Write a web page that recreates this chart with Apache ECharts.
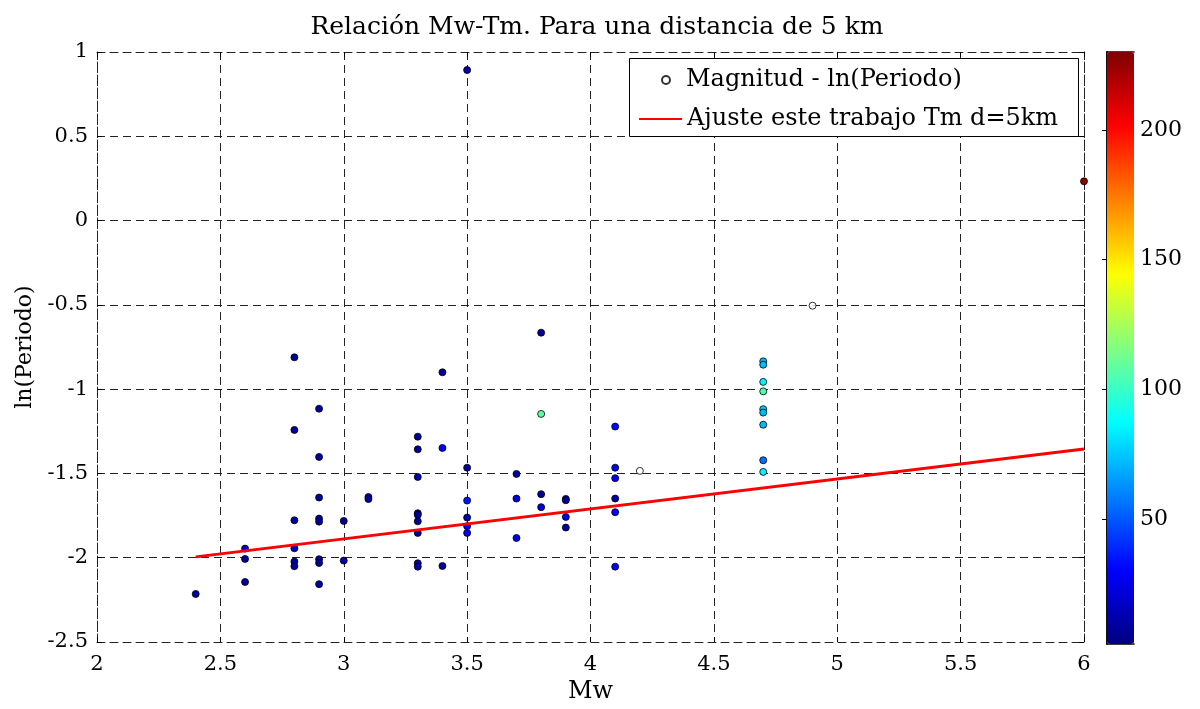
<!DOCTYPE html>
<html>
<head>
<meta charset="utf-8">
<script src="https://cdn.jsdelivr.net/npm/echarts@6/dist/echarts.min.js"></script>
<style>html,body{margin:0;padding:0;background:#fff;}#c{width:1200px;height:709px;}</style>
</head>
<body>
<div id="c"></div>
<script>
// Colored scatter: magnitude, ln(period), color value
const mw = [2.4, 2.6,2.6,2.6, 2.8,2.8,2.8,2.8,2.8,2.8, 2.9,2.9,2.9,2.9,2.9,2.9,2.9,2.9, 3.0,3.0, 3.1,3.1,
  3.3,3.3,3.3,3.3,3.3,3.3,3.3,3.3,3.3, 3.4,3.4,3.4, 3.5,3.5,3.5,3.5,3.5,3.5, 3.7,3.7,3.7, 3.8,3.8,3.8,3.8,
  3.9,3.9,3.9,3.9, 4.1,4.1,4.1,4.1,4.1,4.1, 4.7,4.7,4.7,4.7,4.7,4.7,4.7,4.7,4.7, 6.0];
const lnPeriodo = [-2.215, -1.946,-2.007,-2.144, -0.811,-1.242,-1.778,-1.944,-2.023,-2.050,
  -1.116,-1.402,-1.643,-1.768,-1.786,-2.009,-2.031,-2.157, -1.782,-2.017, -1.640,-1.652,
  -1.282,-1.357,-1.521,-1.736,-1.746,-1.784,-1.853,-2.033,-2.053, -0.900,-1.349,-2.049,
  0.893,-1.466,-1.661,-1.762,-1.813,-1.853, -1.503,-1.649,-1.883, -0.665,-1.147,-1.623,-1.700,
  -1.651,-1.659,-1.758,-1.821, -1.222,-1.466,-1.528,-1.649,-1.730,-2.053,
  -0.835,-0.855,-0.957,-1.013,-1.119,-1.139,-1.211,-1.422,-1.491, 0.233];
const colorValue = [8, 20,8,8, 8,8,8,18,8,10, 8,8,8,8,8,8,8,8, 8,12, 20,8,
  8,8,14,8,8,8,8,10,14, 8,30,8, 12,8,35,12,30,30, 8,22,25, 8,108,8,22,
  8,8,30,8, 32,30,30,8,30,30, 72,72,85,105,75,72,72,55,85, 228];
// Hollow markers (legend series)
const hollowMw = [4.2, 4.9];
const hollowLn = [-1.485, -0.505];
// Fit line endpoints
const fitMw = [2.4, 6.0];
const fitLn = [-1.995, -1.355];
// Axis settings
const cbMin = 1.8, cbMax = 230;
const cbTicks = [50, 100, 150, 200];
const jet = ['#000080','#0000FF','#0080FF','#00FFFF','#80FF80','#FFFF00','#FF8000','#FF0000','#800000'];

const FONT = 'DejaVu Serif';
const dash = [8, 5];
const gridCol = '#222';

const scatterData = mw.map((x, i) => [x, lnPeriodo[i], colorValue[i]]);
const hollowData = hollowMw.map((x, i) => [x, hollowLn[i]]);
const fitData = fitMw.map((x, i) => [x, fitLn[i]]);

const chart = echarts.init(document.getElementById('c'), null, {renderer: 'canvas'});
const lbl = {fontFamily: FONT, fontSize: 21, color: '#000'};

const option = {
  animation: false,
  title: {
    text: 'Relación Mw-Tm. Para una distancia de 5 km',
    left: 592, top: 6, textAlign: 'center',
    textStyle: {fontFamily: FONT, fontSize: 25, fontWeight: 'normal', color: '#000', lineHeight: 32}
  },
  grid: [
    {left: 97, top: 52, width: 987, height: 590, show: false},
    {left: 1107, top: 52, width: 27, height: 592, show: false}
  ],
  xAxis: [
    {gridIndex: 0, type: 'value', min: 2, max: 6, interval: 0.5, position: 'bottom',
     name: 'Mw', nameLocation: 'middle', nameGap: 36,
     nameTextStyle: {fontFamily: FONT, fontSize: 24, color: '#000'},
     axisLine: {show: true, onZero: false, lineStyle: {color: gridCol, type: dash}},
     axisTick: {show: true, inside: true, length: 5, lineStyle: {color: '#000'}},
     axisLabel: Object.assign({margin: 12}, lbl),
     splitLine: {show: true, lineStyle: {color: gridCol, type: dash, width: 1}}},
    {gridIndex: 0, type: 'value', min: 2, max: 6, interval: 0.5, position: 'top',
     axisLine: {show: true, onZero: false, lineStyle: {color: gridCol, type: dash}},
     axisTick: {show: true, inside: true, length: 5, lineStyle: {color: '#000'}},
     axisLabel: {show: false}, splitLine: {show: false}},
    {gridIndex: 1, type: 'value', min: 0, max: 1, position: 'bottom',
     axisLine: {show: true, lineStyle: {color: '#000', width: 1.5}}, axisTick: {show: false},
     axisLabel: {show: false}, splitLine: {show: false}},
    {gridIndex: 1, type: 'value', min: 0, max: 1, position: 'top',
     axisLine: {show: true, lineStyle: {color: '#000', width: 1.5}}, axisTick: {show: false},
     axisLabel: {show: false}, splitLine: {show: false}}
  ],
  yAxis: [
    {gridIndex: 0, type: 'value', min: -2.5, max: 1, interval: 0.5, position: 'left',
     name: 'ln(Periodo)', nameLocation: 'middle', nameGap: 60, nameRotate: 90,
     nameTextStyle: {fontFamily: FONT, fontSize: 22, color: '#000'},
     axisLine: {show: true, onZero: false, lineStyle: {color: gridCol, type: dash}},
     axisTick: {show: true, inside: true, length: 5, lineStyle: {color: '#000'}},
     axisLabel: Object.assign({margin: 9}, lbl),
     splitLine: {show: true, lineStyle: {color: gridCol, type: dash, width: 1}}},
    {gridIndex: 0, type: 'value', min: -2.5, max: 1, interval: 0.5, position: 'right',
     axisLine: {show: true, onZero: false, lineStyle: {color: gridCol, type: dash}},
     axisTick: {show: true, inside: true, length: 5, lineStyle: {color: '#000'}},
     axisLabel: {show: false}, splitLine: {show: false}},
    {gridIndex: 1, type: 'value', min: cbMin, max: cbMax, position: 'right',
     axisLine: {show: true, lineStyle: {color: '#000', width: 1.5}},
     axisTick: {show: true, inside: true, length: 5, customValues: cbTicks, lineStyle: {color: '#000'}},
     axisLabel: Object.assign({margin: 6, customValues: cbTicks}, lbl, {fontSize: 22}),
     splitLine: {show: false}},
    {gridIndex: 1, type: 'value', min: cbMin, max: cbMax, position: 'left',
     axisLine: {show: true, lineStyle: {color: '#000', width: 1.5}},
     axisTick: {show: true, inside: true, length: 5, customValues: cbTicks, lineStyle: {color: '#000'}},
     axisLabel: {show: false}, splitLine: {show: false}}
  ],
  visualMap: {
    type: 'continuous', min: cbMin, max: cbMax, dimension: 2, seriesIndex: 0,
    show: true, calculable: false, left: 1107, top: 52, itemWidth: 27, itemHeight: 592,
    padding: 0, text: null, showLabel: false, hoverLink: false,
    inRange: {color: jet}
  },
  graphic: [{
    type: 'rect', left: 629, top: 58, z: 10,
    shape: {width: 449, height: 78},
    style: {fill: '#fff', stroke: '#000', lineWidth: 1}
  }],
  legend: [
    {data: [{name: 'Magnitud - ln(Periodo)', icon: 'circle'}], left: 656, top: 62, itemWidth: 8, itemHeight: 8, z: 20,
     textStyle: {fontFamily: FONT, fontSize: 24, color: '#000', lineHeight: 26, padding: [0, 0, 0, 11]}},
    {data: [{name: 'Ajuste este trabajo Tm d=5km', icon: 'rect'}], left: 634, top: 101, itemWidth: 43, itemHeight: 2, z: 20,
     textStyle: {fontFamily: FONT, fontSize: 24, color: '#000', lineHeight: 26}}
  ],
  series: [
    {type: 'scatter', xAxisIndex: 0, yAxisIndex: 0, data: scatterData, symbolSize: 7, clip: false,
     itemStyle: {borderColor: '#000', borderWidth: 0.8, opacity: 1}, z: 3},
    {type: 'scatter', name: 'Magnitud - ln(Periodo)', xAxisIndex: 0, yAxisIndex: 0, data: hollowData,
     symbol: 'circle', symbolSize: 7, clip: false,
     itemStyle: {color: '#fff', borderColor: '#000', borderWidth: 1}, z: 3},
    {type: 'line', name: 'Ajuste este trabajo Tm d=5km', xAxisIndex: 0, yAxisIndex: 0, data: fitData,
     symbol: 'none', lineStyle: {color: '#ff0000', width: 3}, itemStyle: {color: '#ff0000'}, z: 4}
  ]
};
chart.setOption(option);
</script>
</body>
</html>
